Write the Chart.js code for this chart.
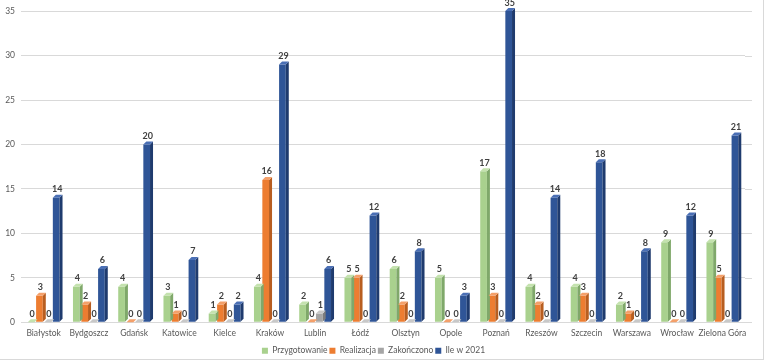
<!DOCTYPE html>
<html>
<head>
<meta charset="utf-8">
<script src="https://cdn.jsdelivr.net/npm/chart.js@4"></script>
<style>
html,body{margin:0;padding:0;background:#fff;}
#wrap{position:absolute;left:0;top:0;width:763px;height:359px;overflow:hidden;border-right:1px solid #D9D9D9;border-bottom:1px solid #D9D9D9;}
canvas{display:block;}
</style>
</head>
<body>
<div id="wrap"><canvas id="c" width="763" height="365"></canvas></div>
<script>
const categories = ["Białystok","Bydgoszcz","Gdańsk","Katowice","Kielce","Kraków","Lublin","Łódź","Olsztyn","Opole","Poznań","Rzeszów","Szczecin","Warszawa","Wrocław","Zielona Góra"];
const przygotowanie = [0,4,4,3,1,4,2,5,6,5,17,4,4,2,9,9];
const realizacja    = [3,2,0,1,2,16,0,5,2,0,3,2,3,1,0,5];
const zakonczono    = [0,0,0,0,0,0,1,0,0,0,0,0,0,0,0,0];
const ile2021       = [14,6,20,7,2,29,6,12,8,3,35,14,18,8,12,21];
const yTicks = [0,5,10,15,20,25,30,35];

const colors = ["#A9D18E","#ED7D31","#A5A5A5","#2F5597"];
const sideColors = ["#7FA86A","#B85E20","#7C7C7C","#1F3B6E"];
const topColors = ["#C4E2AE","#F4A06A","#C8C8C8","#4A6FB5"];
const FONT = 'Lato, "Noto Sans", sans-serif';

const gridExt = {
  id:'gridExt',
  beforeDatasetsDraw(chart){
    const ctx = chart.ctx, ys = chart.scales.y, a = chart.chartArea;
    ctx.save();
    ctx.strokeStyle = '#D9D9D9';
    ctx.lineWidth = 1;
    yTicks.forEach(v=>{
      const y = Math.round(ys.getPixelForValue(v)) + 0.5;
      ctx.beginPath();
      ctx.moveTo(a.right, y);
      ctx.lineTo(a.right + 7, y);
      ctx.stroke();
    });
    ctx.restore();
  }
};

const bar3d = {
  id:'bar3d',
  afterDatasetsDraw(chart){
    const ctx = chart.ctx;
    const d = 3;
    chart.data.datasets.forEach((ds,i)=>{
      const meta = chart.getDatasetMeta(i);
      meta.data.forEach((el)=>{
        const p = el.getProps(['x','y','base','width'],true);
        const r = p.x + p.width/2, l = p.x - p.width/2;
        ctx.save();
        ctx.fillStyle = sideColors[i];
        ctx.beginPath();
        ctx.moveTo(r, p.y);
        ctx.lineTo(r+d, p.y-d);
        ctx.lineTo(r+d, p.base-d);
        ctx.lineTo(r, p.base);
        ctx.closePath();
        ctx.fill();
        ctx.fillStyle = topColors[i];
        ctx.beginPath();
        ctx.moveTo(l, p.y);
        ctx.lineTo(l+d, p.y-d);
        ctx.lineTo(r+d, p.y-d);
        ctx.lineTo(r, p.y);
        ctx.closePath();
        ctx.fill();
        ctx.restore();
      });
    });
    ctx.save();
    ctx.font = 'bold 9px ' + FONT;
    ctx.fillStyle = '#404040';
    ctx.textAlign = 'center';
    ctx.textBaseline = 'bottom';
    chart.data.datasets.forEach((ds,i)=>{
      const meta = chart.getDatasetMeta(i);
      meta.data.forEach((el,j)=>{
        const p = el.getProps(['x','y'],true);
        ctx.fillText(String(ds.data[j]), p.x+1, p.y-4);
      });
    });
    ctx.restore();
  }
};

const mk = (label,data,i)=>({label,data,backgroundColor:colors[i],borderWidth:0,categoryPercentage:0.74,barPercentage:0.8});

new Chart(document.getElementById('c'),{
  type:'bar',
  data:{labels:categories,datasets:[
    mk('Przygotowanie',przygotowanie,0),
    mk('Realizacja',realizacja,1),
    mk('Zakończono',zakonczono,2),
    mk('Ile w 2021',ile2021,3)
  ]},
  options:{
    responsive:false,animation:false,
    layout:{padding:{left:2,right:18,top:9,bottom:0}},
    plugins:{
      legend:{position:'bottom',labels:{boxWidth:6,boxHeight:6,font:{size:8.5,family:FONT},color:'#595959',padding:2}},
      tooltip:{enabled:false}
    },
    scales:{
      x:{grid:{display:false,drawTicks:false},border:{display:false},ticks:{color:'#595959',autoSkip:false,font:{size:8.5,family:FONT},maxRotation:0,padding:6}},
      y:{min:0,max:35,afterBuildTicks:(ax)=>{ax.ticks=yTicks.map(v=>({value:v}));},
         afterFit:(ax)=>{ax.width=19;},
         grid:{color:'#D9D9D9',drawTicks:false},border:{display:false},
         ticks:{color:'#595959',font:{size:8.5,family:FONT},padding:6}}
    }
  },
  plugins:[gridExt,bar3d]
});
</script>
</body>
</html>
